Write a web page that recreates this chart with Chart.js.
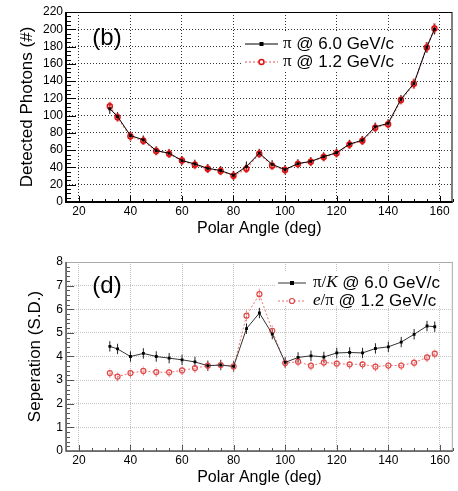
<!DOCTYPE html>
<html>
<head>
<meta charset="utf-8">
<script src="https://cdn.jsdelivr.net/npm/chart.js@4.4.1/dist/chart.umd.min.js"></script>
<style>
body { margin: 0; background: #fff; width: 458px; height: 491px; overflow: hidden; }
canvas { position: absolute; left: 0; }
#photonChart { top: 0; }
#sepChart { top: 245px; }
</style>
</head>
<body>
<canvas id="photonChart" width="458" height="245"></canvas>
<canvas id="sepChart" width="458" height="246"></canvas>
<script>
// data
const angles = [32, 35, 40, 45, 50, 55, 60, 65, 70, 75, 80, 85, 90, 95, 100, 105, 110, 115, 120, 125, 130, 135, 140, 145, 150, 155, 158]

const photons6 = [108, 99, 77, 72, 59.5, 56.5, 48, 44, 39, 36.5, 31, 41, 56.5, 43.5, 37.5, 44.5, 47, 52.5, 57, 67, 71.5, 87, 91, 119, 137, 179, 200]
const photons12 = [111, 98, 76, 71, 59, 56, 48, 43, 38.5, 36, 30.5, 38.5, 56, 42, 37, 44, 46.5, 52, 56.5, 66.5, 71, 86, 90, 118, 137, 179, 201]
const photonErr6 = [6, 5, 5, 5, 5, 5, 5, 5, 5, 5, 5, 6, 5, 5, 5, 5, 5, 5, 5, 5, 5, 5, 5, 5, 5, 6, 6]
const photonErr12 = [5, 5, 5, 5, 5, 5, 5, 5, 5, 5, 5, 5, 5, 5, 5, 5, 5, 5, 5, 5, 5, 5, 5, 5, 6, 6, 6]

const sepPiK = [4.43, 4.32, 4.0, 4.13, 4.0, 3.93, 3.86, 3.77, 3.61, 3.64, 3.58, 5.18, 5.84, 4.95, 3.75, 3.96, 4.03, 3.98, 4.15, 4.17, 4.15, 4.34, 4.41, 4.61, 4.94, 5.29, 5.26]
const sepEPi = [3.30, 3.15, 3.30, 3.39, 3.34, 3.33, 3.41, 3.51, 3.61, 3.64, 3.58, 5.73, 6.64, 5.09, 3.72, 3.78, 3.61, 3.75, 3.70, 3.67, 3.67, 3.57, 3.62, 3.62, 3.74, 3.96, 4.12]
const sepErrPiK = [0.22, 0.22, 0.22, 0.22, 0.22, 0.22, 0.22, 0.22, 0.22, 0.22, 0.22, 0.22, 0.22, 0.22, 0.22, 0.22, 0.22, 0.22, 0.22, 0.22, 0.22, 0.22, 0.22, 0.22, 0.22, 0.22, 0.22]
const sepErrEPi = [0.2, 0.2, 0.2, 0.2, 0.2, 0.2, 0.2, 0.2, 0.2, 0.2, 0.2, 0.24, 0.26, 0.22, 0.2, 0.2, 0.2, 0.2, 0.2, 0.2, 0.2, 0.2, 0.2, 0.2, 0.2, 0.2, 0.2]

const xTicks = [20, 40, 60, 80, 100, 120, 140, 160]
const photonTicks = [0, 20, 40, 60, 80, 100, 120, 140, 160, 180, 200, 220]
const sepTicks = [0, 1, 2, 3, 4, 5, 6, 7, 8]

Chart.defaults.font.family = "'Liberation Sans', Arial, sans-serif"
Chart.defaults.color = "#000"

function points(values) {
    return angles.map((a, i) => ({ x: a, y: values[i] }))
}

function setTicks(list) {
    return scale => { scale.ticks = list.map(v => ({ value: v })) }
}

// vertical error bars under the markers
const errorBars = {
    id: "errorBars",
    beforeDatasetsDraw(chart) {
        const ctx = chart.ctx
        const ys = chart.scales.y
        chart.data.datasets.forEach((ds, i) => {
            if (!ds.errors) return
            const meta = chart.getDatasetMeta(i)
            ctx.save()
            ctx.strokeStyle = ds.errColor
            ctx.lineWidth = ds.errWidth
            ctx.setLineDash(ds.errDash || [])
            meta.data.forEach((pt, j) => {
                const v = ds.data[j].y
                const e = ds.errors[j]
                ctx.beginPath()
                ctx.moveTo(pt.x, ys.getPixelForValue(v - e))
                ctx.lineTo(pt.x, ys.getPixelForValue(v + e))
                ctx.stroke()
            })
            ctx.restore()
        })
    }
}

// frame, inside ticks, panel tag and legend box
const decor = {
    id: "decor",
    afterDraw(chart, args, o) {
        const ctx = chart.ctx
        const a = chart.chartArea
        const xs = chart.scales.x
        const ys = chart.scales.y
        ctx.save()

        // legend box hides the grid behind it
        const lg = o.legend
        ctx.fillStyle = "#fff"
        ctx.fillRect(lg.box[0], lg.box[1], lg.box[2], lg.box[3])

        // minor / major ticks
        ctx.strokeStyle = o.axisColor
        ctx.lineWidth = 1
        for (let v = ys.min; v <= ys.max + 1e-6; v += o.yMinor) {
            const major = Math.abs(v / o.yMajor - Math.round(v / o.yMajor)) < 1e-6
            const y = Math.round(ys.getPixelForValue(v)) + 0.5
            ctx.beginPath()
            ctx.moveTo(a.left, y)
            ctx.lineTo(a.left + (major ? o.yTickLen : o.yTickLen / 2), y)
            ctx.stroke()
        }
        for (let v = 20; v <= 165; v += 5) {
            const major = v % 20 === 0
            const x = Math.round(xs.getPixelForValue(v)) + 0.5
            ctx.beginPath()
            ctx.moveTo(x, a.bottom)
            ctx.lineTo(x, a.bottom - (major ? 6 : 3))
            ctx.stroke()
        }

        // frame
        ctx.strokeStyle = o.frameColor
        ctx.lineWidth = 1
        ctx.strokeRect(a.left + 0.5, a.top + 0.5, a.right - a.left - 1, a.bottom - a.top)
        ctx.strokeStyle = o.axisColor
        ctx.lineWidth = o.axisWidth
        ctx.beginPath()
        ctx.moveTo(a.left, a.top)
        ctx.lineTo(a.left, a.bottom)
        ctx.lineTo(a.right, a.bottom)
        ctx.stroke()

        // panel tag
        ctx.fillStyle = "#000"
        ctx.font = "24px 'Liberation Sans'"
        ctx.textAlign = "center"
        ctx.textBaseline = "middle"
        ctx.fillText(o.tag, o.tagX, o.tagY)

        // legend rows
        ctx.textAlign = "left"
        lg.rows.forEach((row, i) => {
            const ds = chart.data.datasets[i]
            ctx.strokeStyle = ds.borderColor
            ctx.lineWidth = ds.borderWidth
            ctx.setLineDash(ds.borderDash || [])
            ctx.beginPath()
            ctx.moveTo(lg.x0, row.y)
            ctx.lineTo(lg.x1, row.y)
            ctx.stroke()
            ctx.setLineDash([])
            const mx = (lg.x0 + lg.x1) / 2
            if (ds.pointStyle === "circle") {
                ctx.fillStyle = "#fff"
                ctx.strokeStyle = ds.pointBorderColor
                ctx.lineWidth = ds.pointBorderWidth
                ctx.beginPath()
                ctx.arc(mx, row.y, ds.pointRadius, 0, Math.PI * 2)
                ctx.fill()
                ctx.stroke()
            } else {
                ctx.fillStyle = ds.pointBackgroundColor
                ctx.fillRect(mx - 2, row.y - 2, 4, 4)
            }
            ctx.fillStyle = "#000"
            let x = lg.tx
            row.parts.forEach(p => {
                ctx.font = p[1]
                ctx.fillText(p[0], x, row.y)
                x += ctx.measureText(p[0]).width
            })
        })
        ctx.restore()
    }
}

function scales(yMax, yTickList, yTitle, yTitlePad, xTitlePad, xHeight, grid) {
    return {
        x: {
            type: "linear",
            min: 15,
            max: 165,
            afterBuildTicks: setTicks(xTicks),
            afterFit: s => { s.height = xHeight },
            ticks: { font: { size: 12 }, padding: 2, maxRotation: 0, autoSkip: false },
            grid: { color: grid.color, lineWidth: 1, drawTicks: false, borderDash: grid.dash },
            border: { display: false, dash: grid.dash },
            title: { display: true, text: "Polar Angle (deg)", font: { size: 16 }, padding: { top: 0, bottom: xTitlePad } }
        },
        y: {
            min: 0,
            max: yMax,
            afterBuildTicks: setTicks(yTickList),
            afterFit: s => { s.width = 66 },
            ticks: { font: { size: 12 }, padding: 3, autoSkip: false },
            grid: { color: grid.color, lineWidth: 1, drawTicks: false, borderDash: grid.dash },
            border: { display: false, dash: grid.dash },
            title: { display: true, text: yTitle, font: { size: 17 }, padding: { top: yTitlePad, bottom: 0 } }
        }
    }
}

new Chart(document.getElementById("photonChart"), {
    type: "line",
    data: {
        datasets: [{
            label: "π @ 6.0 GeV/c",
            data: points(photons6),
            borderColor: "#000",
            borderWidth: 1,
            pointStyle: "rect",
            pointRadius: 2,
            pointBackgroundColor: "#000",
            pointBorderColor: "#000",
            pointBorderWidth: 0,
            errors: photonErr6,
            errColor: "#000",
            errWidth: 1
        }, {
            label: "π @ 1.2 GeV/c",
            data: points(photons12),
            borderColor: "#f28a8a",
            borderWidth: 1.5,
            borderDash: [2, 2],
            pointStyle: "circle",
            pointRadius: 2.5,
            pointBackgroundColor: "rgba(255,255,255,0)",
            pointBorderColor: "#e01010",
            pointBorderWidth: 1.5,
            errors: photonErr12,
            errColor: "rgba(225,50,50,0.7)",
            errWidth: 2.5
        }]
    },
    options: {
        responsive: false,
        animation: false,
        devicePixelRatio: 1,
        layout: { padding: { top: 12, right: 1, left: 0, bottom: 0 } },
        scales: scales(220, photonTicks, "Detected Photons (#)", 17, 7, 43, { color: "#333", dash: [1, 2] }),
        plugins: {
            legend: { display: false },
            tooltip: { enabled: false },
            decor: {
                tag: "(b)", tagX: 107, tagY: 38,
                axisColor: "#000", axisWidth: 2, frameColor: "#000",
                yMinor: 5, yMajor: 20, yTickLen: 10,
                legend: {
                    box: [243, 33, 158, 38],
                    x0: 245, x1: 278, tx: 283,
                    rows: [
                        { y: 44, parts: [["π", "17px 'Liberation Serif'"], [" @ 6.0 GeV/c", "17px 'Liberation Sans'"]] },
                        { y: 62, parts: [["π", "17px 'Liberation Serif'"], [" @ 1.2 GeV/c", "17px 'Liberation Sans'"]] }
                    ]
                }
            }
        }
    },
    plugins: [errorBars, decor]
})

new Chart(document.getElementById("sepChart"), {
    type: "line",
    data: {
        datasets: [{
            label: "π/K @ 6.0 GeV/c",
            data: points(sepPiK),
            borderColor: "#333",
            borderWidth: 1,
            pointStyle: "rect",
            pointRadius: 2,
            pointBackgroundColor: "#000",
            pointBorderColor: "#000",
            pointBorderWidth: 0,
            errors: sepErrPiK,
            errColor: "#222",
            errWidth: 1
        }, {
            label: "e/π @ 1.2 GeV/c",
            data: points(sepEPi),
            borderColor: "#f07070",
            borderWidth: 1,
            borderDash: [2, 2],
            pointStyle: "circle",
            pointRadius: 2.5,
            pointBackgroundColor: "rgba(255,255,255,0)",
            pointBorderColor: "#e04848",
            pointBorderWidth: 1.2,
            errors: sepErrEPi,
            errColor: "rgba(235,90,90,0.8)",
            errWidth: 1,
            errDash: [2, 1]
        }]
    },
    options: {
        responsive: false,
        animation: false,
        devicePixelRatio: 1,
        layout: { padding: { top: 17, right: 1, left: 0, bottom: 0 } },
        scales: scales(8, sepTicks, "Seperation (S.D.)", 25, 4, 40, { color: "#c4c4c4", dash: [1, 1] }),
        plugins: {
            legend: { display: false },
            tooltip: { enabled: false },
            decor: {
                tag: "(d)", tagX: 107, tagY: 41,
                axisColor: "#555", axisWidth: 1.5, frameColor: "#aaa",
                yMinor: 0.2, yMajor: 1, yTickLen: 8,
                legend: {
                    box: [275, 27, 182, 33],
                    x0: 278, x1: 306, tx: 313,
                    rows: [
                        { y: 38, parts: [["π/", "17px 'Liberation Serif'"], ["K", "italic 17px 'Liberation Serif'"], [" @ 6.0 GeV/c", "17px 'Liberation Sans'"]] },
                        { y: 56, parts: [["e", "italic 17px 'Liberation Serif'"], ["/π", "17px 'Liberation Serif'"], [" @ 1.2 GeV/c", "17px 'Liberation Sans'"]] }
                    ]
                }
            }
        }
    },
    plugins: [errorBars, decor]
})
</script>
</body>
</html>
